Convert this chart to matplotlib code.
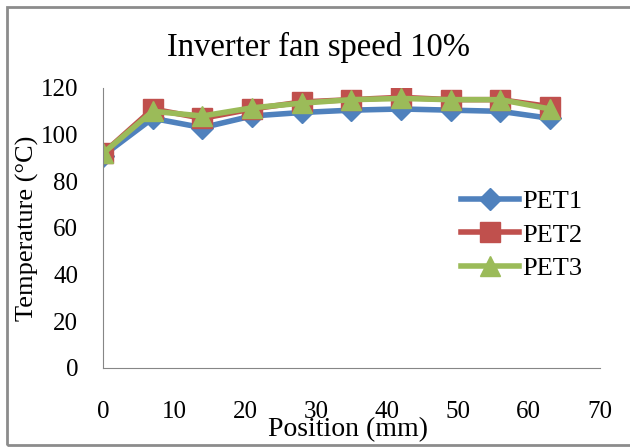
import numpy as np
import matplotlib.pyplot as plt
from matplotlib.patches import Rectangle

plt.rcParams['font.family'] = ['Liberation Serif', 'DejaVu Serif']

# data
position = [0, 7, 14, 21, 28, 35, 42, 49, 56, 63]
pet1 = [91, 107, 103, 108, 109.5, 110.5, 111, 110.5, 110, 107]
pet2 = [92, 111, 107, 111, 114, 115, 116, 115, 115, 112]
pet3 = [92, 110, 108, 111.5, 113.5, 115, 115.5, 115, 115, 111]

fig = plt.figure(figsize=(6.3, 4.48), dpi=100)
ax = fig.add_axes([0.1635, 0.1786, 0.7885, 0.625])

ax.plot(position, pet1, color='#4F81BD', lw=4, marker='D', ms=11, label='PET1')
ax.plot(position, pet2, color='#C0504D', lw=4, marker='s', ms=14, label='PET2')
ax.plot(position, pet3, color='#9BBB59', lw=4, marker='^', ms=15, label='PET3')

ax.set_xlim(0, 70)
ax.set_ylim(0, 120)
ax.set_xticks(np.arange(0, 71, 10))
ax.set_yticks(np.arange(0, 121, 20))
ax.tick_params(axis='both', length=0, labelsize=18)
ax.tick_params(axis='y', pad=18)
ax.tick_params(axis='x', pad=24)
for s in ['top', 'right']:
    ax.spines[s].set_visible(False)
for s in ['left', 'bottom']:
    ax.spines[s].set_color('#868686')

fig.text(0.505, 0.893, 'Inverter fan speed 10%', fontsize=23.5, ha='center', va='center')
fig.text(0.552, 0.04, 'Position (mm)', fontsize=20, ha='center', va='center')
fig.text(0.043, 0.49, 'Temperature (°C)', fontsize=19, ha='center', va='center',
         rotation=90)

ax.legend(loc='center left', bbox_to_anchor=(0.7, 0.475), frameon=False, fontsize=19,
          handlelength=2.2, handletextpad=0.1, labelspacing=0.38, borderaxespad=0)

fig.patches.append(Rectangle((0.011, 0.007), 1.2, 0.978, transform=fig.transFigure,
                             fill=False, edgecolor='#8c8c8c', lw=2))

fig.savefig('out.png', dpi=100)
